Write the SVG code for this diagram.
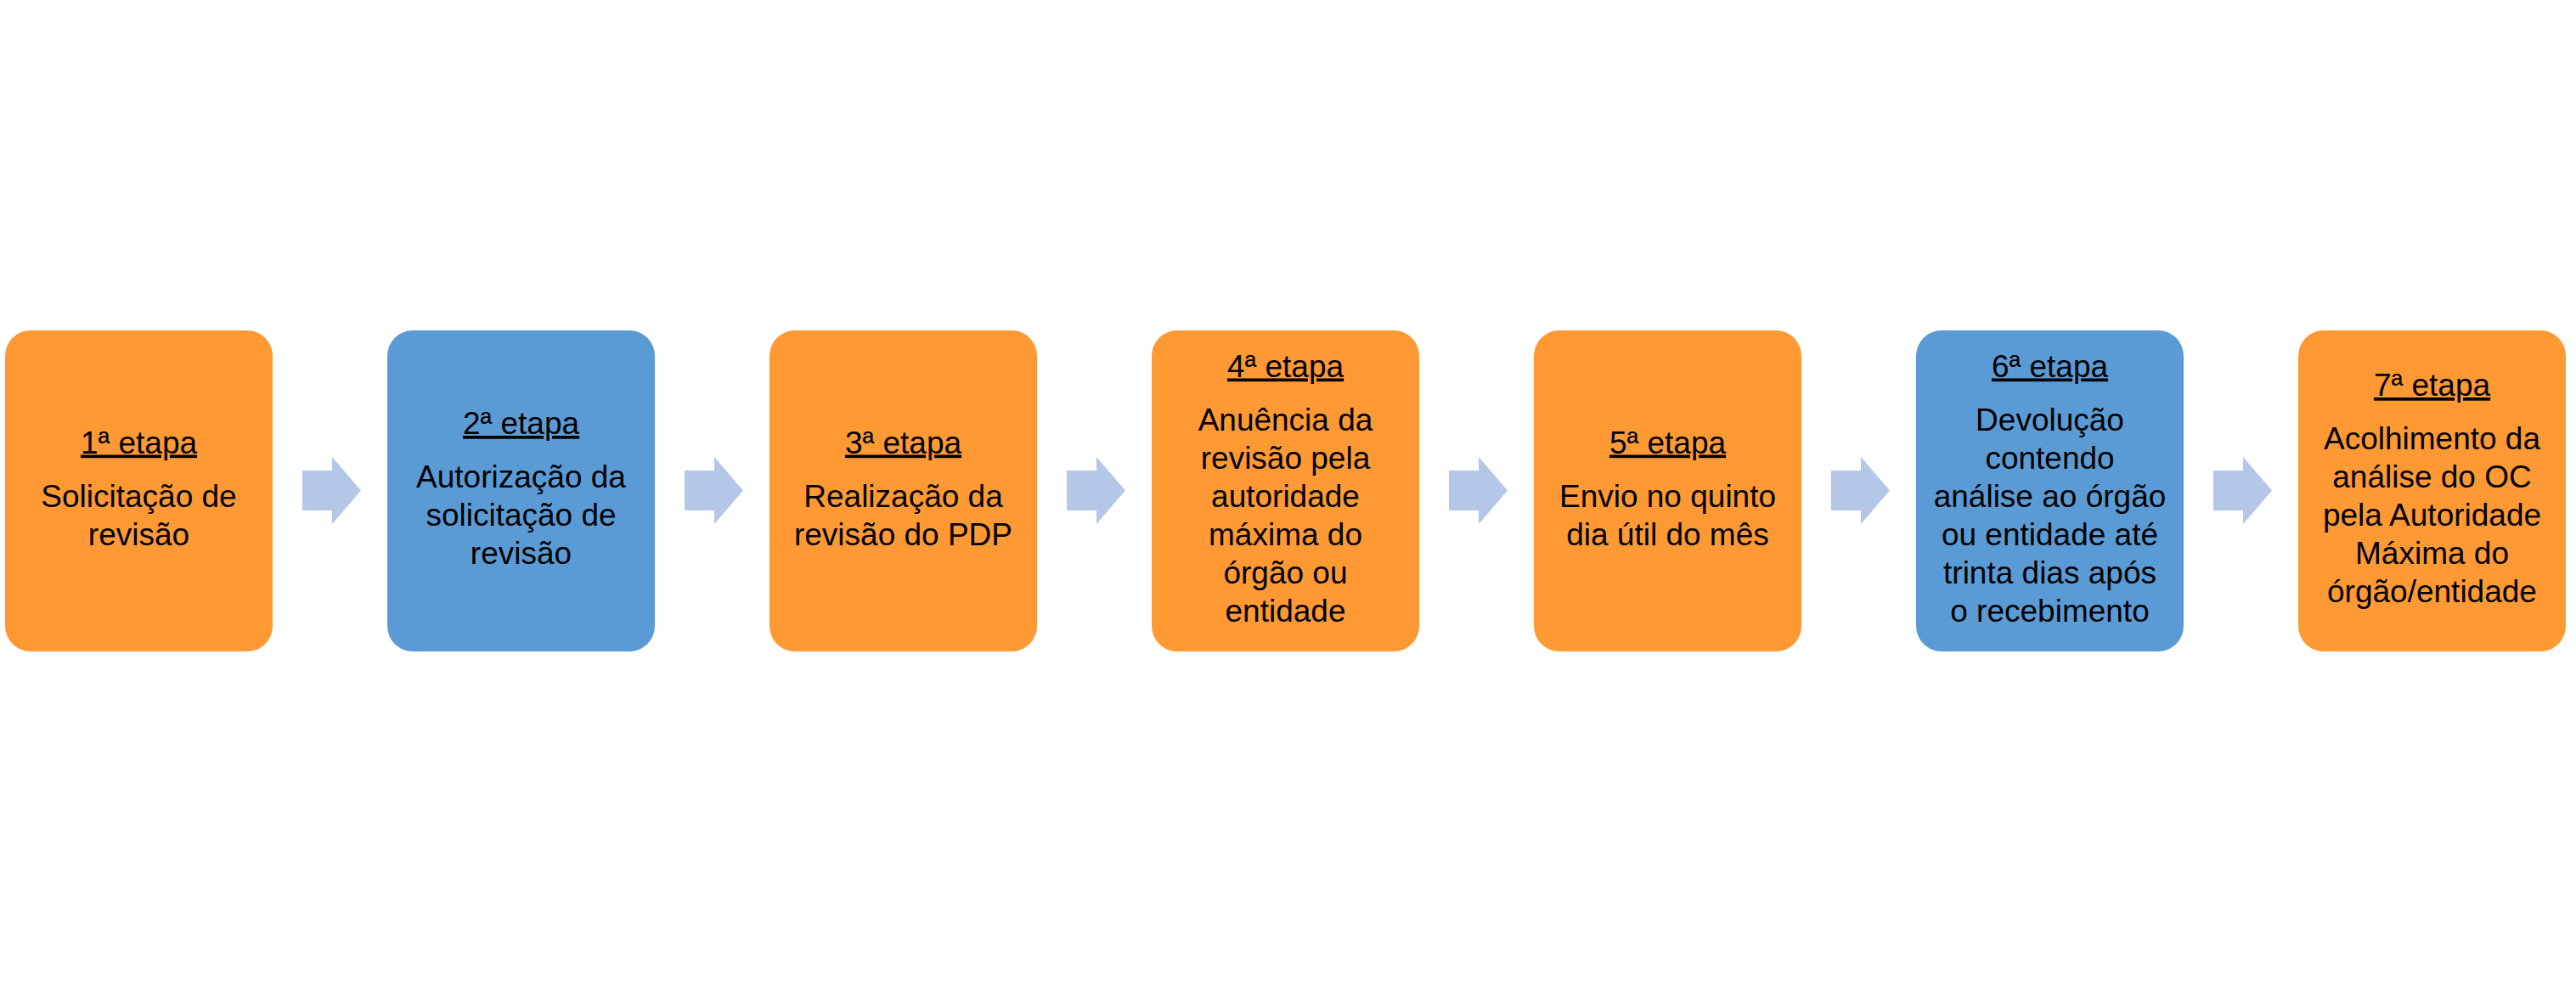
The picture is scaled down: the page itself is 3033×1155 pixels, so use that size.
<svg xmlns="http://www.w3.org/2000/svg" width="3033" height="1155" viewBox="0 0 3033 1155">
<style>
.orange{fill:#FF9933}
.blue{fill:#5B9BD5}
.arrow{fill:#B4C7E7}
text{font-family:"Liberation Sans",Arial,sans-serif;font-size:37px;fill:#000;text-anchor:middle}
.h{text-decoration:underline}
</style>
<rect width="3033" height="1155" fill="#FFFFFF"/>
<g id="connectors">
<polygon class="arrow" points="356,554 391,554 391,538 425,577.5 391,617 391,601 356,601"/>
<polygon class="arrow" points="806,554 841,554 841,538 875,577.5 841,617 841,601 806,601"/>
<polygon class="arrow" points="1256,554 1291,554 1291,538 1325,577.5 1291,617 1291,601 1256,601"/>
<polygon class="arrow" points="1706,554 1741,554 1741,538 1775,577.5 1741,617 1741,601 1706,601"/>
<polygon class="arrow" points="2156,554 2191,554 2191,538 2225,577.5 2191,617 2191,601 2156,601"/>
<polygon class="arrow" points="2606,554 2641,554 2641,538 2675,577.5 2641,617 2641,601 2606,601"/>
</g>
<g id="step1">
<rect class="orange" x="6" y="389" width="315" height="378" rx="30" ry="30"/>
<text x="163.5" y="533.5" class="h">1ª etapa</text>
<text x="163.5" y="596.5">Solicitação de</text>
<text x="163.5" y="641.5">revisão</text>
</g>
<g id="step2">
<rect class="blue" x="456" y="389" width="315" height="378" rx="30" ry="30"/>
<text x="613.5" y="511" class="h">2ª etapa</text>
<text x="613.5" y="574">Autorização da</text>
<text x="613.5" y="619">solicitação de</text>
<text x="613.5" y="664">revisão</text>
</g>
<g id="step3">
<rect class="orange" x="906" y="389" width="315" height="378" rx="30" ry="30"/>
<text x="1063.5" y="533.5" class="h">3ª etapa</text>
<text x="1063.5" y="596.5">Realização da</text>
<text x="1063.5" y="641.5">revisão do PDP</text>
</g>
<g id="step4">
<rect class="orange" x="1356" y="389" width="315" height="378" rx="30" ry="30"/>
<text x="1513.5" y="443.5" class="h">4ª etapa</text>
<text x="1513.5" y="506.5">Anuência da</text>
<text x="1513.5" y="551.5">revisão pela</text>
<text x="1513.5" y="596.5">autoridade</text>
<text x="1513.5" y="641.5">máxima do</text>
<text x="1513.5" y="686.5">órgão ou</text>
<text x="1513.5" y="731.5">entidade</text>
</g>
<g id="step5">
<rect class="orange" x="1806" y="389" width="315" height="378" rx="30" ry="30"/>
<text x="1963.5" y="533.5" class="h">5ª etapa</text>
<text x="1963.5" y="596.5">Envio no quinto</text>
<text x="1963.5" y="641.5">dia útil do mês</text>
</g>
<g id="step6">
<rect class="blue" x="2256" y="389" width="315" height="378" rx="30" ry="30"/>
<text x="2413.5" y="443.5" class="h">6ª etapa</text>
<text x="2413.5" y="506.5">Devolução</text>
<text x="2413.5" y="551.5">contendo</text>
<text x="2413.5" y="596.5">análise ao órgão</text>
<text x="2413.5" y="641.5">ou entidade até</text>
<text x="2413.5" y="686.5">trinta dias após</text>
<text x="2413.5" y="731.5">o recebimento</text>
</g>
<g id="step7">
<rect class="orange" x="2706" y="389" width="315" height="378" rx="30" ry="30"/>
<text x="2863.5" y="466" class="h">7ª etapa</text>
<text x="2863.5" y="529">Acolhimento da</text>
<text x="2863.5" y="574">análise do OC</text>
<text x="2863.5" y="619">pela Autoridade</text>
<text x="2863.5" y="664">Máxima do</text>
<text x="2863.5" y="709">órgão/entidade</text>
</g>
</svg>
